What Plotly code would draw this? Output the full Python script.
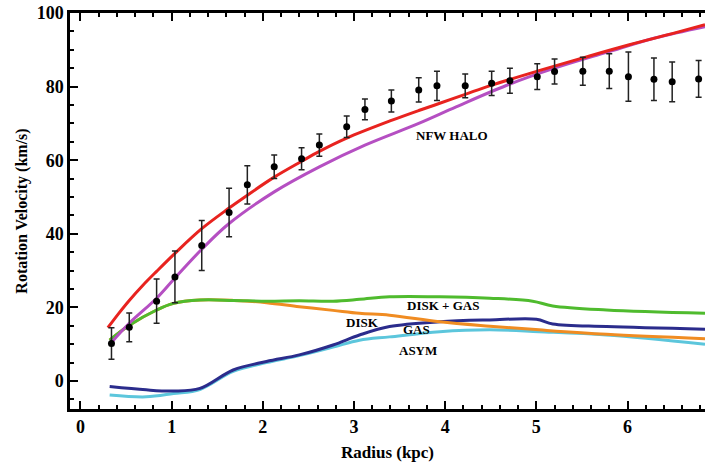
import plotly.graph_objects as go

# Observed data points
r_obs = [0.34, 0.535, 0.835, 1.036, 1.33, 1.63, 1.83, 2.125, 2.425, 2.62, 2.92, 3.12, 3.41,
         3.71, 3.91, 4.22, 4.51, 4.71, 5.01, 5.20, 5.51, 5.80, 6.01, 6.29, 6.49, 6.78]
v_obs = [10.2, 14.6, 21.7, 28.3, 36.8, 45.8, 53.3, 58.2, 60.4, 64.1, 69.1, 73.8, 76.1,
         79.1, 80.2, 80.2, 80.9, 81.6, 82.7, 84.1, 84.2, 84.2, 82.7, 82.0, 81.3, 82.1]
e_obs = [4.3, 3.9, 6.0, 7.0, 6.8, 6.6, 5.2, 3.2, 3.0, 3.0, 2.9, 2.8, 3.0,
         3.3, 4.0, 3.2, 3.3, 3.4, 3.5, 3.4, 3.8, 4.7, 6.7, 5.8, 5.4, 5.0]

# Total model (red)
r_tot = [0.30, 0.42, 0.535, 0.68, 0.835, 1.036, 1.33, 1.63, 1.83, 2.125, 2.425, 2.62, 2.92,
         3.41, 3.71, 3.91, 4.22, 4.51, 5.01, 5.51, 6.01, 6.49, 6.85]
v_tot = [14.5, 18.4, 21.9, 25.9, 29.8, 34.7, 41.4, 47.0, 50.5, 55.4, 59.7, 62.4, 66.0,
         70.8, 73.5, 75.2, 77.9, 80.4, 84.2, 87.8, 91.3, 94.4, 96.8]

# NFW halo (magenta)
r_nfw = [0.33, 0.535, 0.835, 1.036, 1.33, 1.63, 2.125, 2.62, 3.12, 3.71, 4.12, 4.67, 5.20,
         5.77, 6.30, 6.85]
v_nfw = [10.2, 15.7, 22.5, 28.0, 35.8, 42.8, 51.4, 58.2, 64.1, 70.0, 74.5, 80.3, 85.0,
         89.3, 93.2, 96.3]

# Disk + gas (green)
r_dg = [0.32, 0.54, 0.835, 1.02, 1.31, 1.68, 2.04, 2.40, 2.77, 3.06, 3.39, 3.94, 4.49,
        4.96, 5.18, 5.77, 6.85]
v_dg = [11.1, 15.2, 19.3, 21.1, 22.0, 21.9, 21.7, 21.8, 21.7, 22.2, 22.9, 22.9, 22.5,
        21.7, 20.4, 19.3, 18.4]

# Disk (orange)
r_disk = [0.32, 0.54, 0.835, 1.02, 1.31, 1.68, 2.04, 2.40, 2.77, 3.06, 3.39, 3.94, 4.49,
          5.03, 5.77, 6.85]
v_disk = [11.1, 15.2, 19.3, 21.1, 22.0, 21.9, 21.3, 20.2, 19.2, 18.4, 17.9, 16.1, 14.9,
          13.9, 12.7, 11.5]

# Gas (navy)
r_gas = [0.32, 0.72, 1.02, 1.31, 1.675, 2.04, 2.40, 2.77, 3.06, 3.39, 3.94, 4.49, 5.00,
         5.18, 5.77, 6.85]
v_gas = [-1.5, -2.4, -2.7, -2.0, 3.0, 5.3, 7.1, 9.8, 12.5, 14.8, 16.1, 16.6, 16.8,
         15.5, 14.8, 14.1]

# Asymmetric drift (cyan)
r_asym = [0.32, 0.72, 1.02, 1.31, 1.675, 2.04, 2.40, 2.77, 3.06, 3.39, 3.94, 4.49, 5.03,
          5.77, 6.85]
v_asym = [-3.8, -4.3, -3.4, -2.3, 2.6, 5.0, 6.9, 9.2, 11.1, 12.0, 13.4, 13.9, 13.4,
          12.5, 10.0]

x_ticks = [0, 1, 2, 3, 4, 5, 6]
y_ticks = [0, 20, 40, 60, 80, 100]

labels = ["NFW HALO", "DISK + GAS", "DISK", "GAS", "ASYM"]
label_r = [4.07, 3.98, 3.09, 3.69, 3.70]
label_v = [66.8, 20.4, 15.8, 13.9, 8.2]

SERIF = "Liberation Serif"

fig = go.Figure()

def curve(x, y, color, width=3):
    fig.add_trace(go.Scatter(x=x, y=y, mode="lines",
                             line=dict(color=color, width=width, shape="spline", smoothing=1.0),
                             showlegend=False, hoverinfo="skip"))

curve(r_asym, v_asym, "#5cc6dc")
curve(r_gas, v_gas, "#2b2c8c")
curve(r_disk, v_disk, "#f08c22")
curve(r_dg, v_dg, "#4fbb2e")
curve(r_nfw, v_nfw, "#b54fc2")
curve(r_tot, v_tot, "#e8231f")

fig.add_trace(go.Scatter(
    x=r_obs, y=v_obs, mode="markers",
    marker=dict(color="black", size=7),
    error_y=dict(type="data", array=e_obs, color="#222222", thickness=1.5, width=3),
    showlegend=False))

for t, x, y in zip(labels, label_r, label_v):
    fig.add_annotation(x=x, y=y, text="<b>" + t + "</b>", showarrow=False,
                       font=dict(family=SERIF, size=13, color="black"))

fig.update_xaxes(range=[-0.115, 6.85], tickvals=x_ticks, ticks="inside", ticklen=8,
                 tickwidth=2, tickcolor="black", showline=True, linecolor="black",
                 linewidth=2.5, mirror="ticks", showgrid=False, zeroline=False,
                 tickfont=dict(family=SERIF, size=18, color="black", weight="bold"),
                 minor=dict(dtick=0.2, ticks="inside", ticklen=4, tickwidth=1.5,
                            tickcolor="black", showgrid=False),
                 title=dict(text="<b>Radius (kpc)</b>",
                            font=dict(family=SERIF, size=17, color="black"), standoff=10))
fig.update_yaxes(range=[-7.6, 100], tickvals=y_ticks, ticks="inside", ticklen=8,
                 tickwidth=2, tickcolor="black", showline=True, linecolor="black",
                 linewidth=2.5, showgrid=False, zeroline=False,
                 tickfont=dict(family=SERIF, size=18, color="black", weight="bold"),
                 minor=dict(dtick=5, tick0=0, ticks="inside", ticklen=4, tickwidth=1.5,
                            tickcolor="black", showgrid=False),
                 title=dict(text="<b>Rotation Velocity (km/s)</b>",
                            font=dict(family=SERIF, size=16, color="black"), standoff=6))

fig.update_layout(width=705, height=466, margin=dict(l=70, r=0, t=13, b=57),
                  paper_bgcolor="white", plot_bgcolor="white")

fig.write_html("out.html")
